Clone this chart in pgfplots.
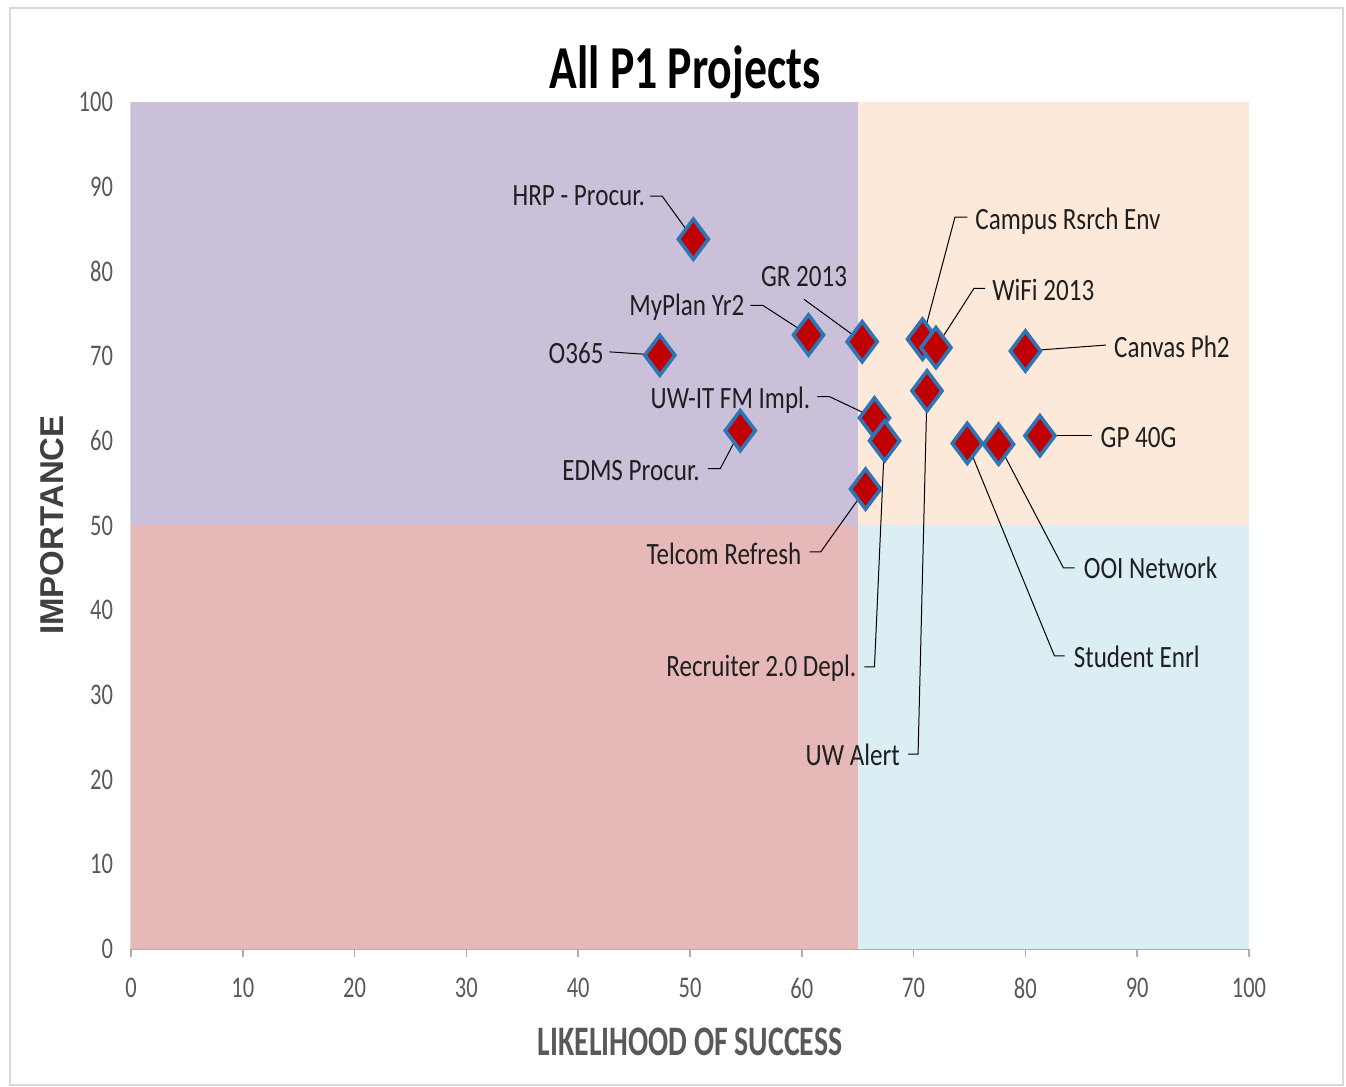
\documentclass[border=0pt]{standalone}
\usepackage{pgfplots}
\pgfplotsset{compat=1.18}
\usepackage{fontspec}
\setmainfont{Carlito}[FakeStretch=0.75]
\newfontfamily\labfont{Carlito}[FakeStretch=0.81]
\newfontfamily\xlabfont{Carlito}[FakeStretch=0.71]
\newfontfamily\ylabfont{Liberation Sans}
\definecolor{qUL}{HTML}{CBC0DA}
\definecolor{qUR}{HTML}{FDE9D9}
\definecolor{qLL}{HTML}{E6B9B8}
\definecolor{qLR}{HTML}{DBEEF4}
\definecolor{mkred}{HTML}{C00000}
\definecolor{mkblue}{HTML}{2E75B6}
\definecolor{tickgray}{HTML}{595959}
\definecolor{framegray}{HTML}{D9D9D9}
\pgfplotstableread{
x y
50.3 83.8
60.6 72.5
65.4 71.7
47.3 70.1
70.8 72.0
72.0 71.0
80.0 70.6
71.2 65.9
66.5 62.7
67.4 60.0
54.5 61.2
81.3 60.6
74.8 59.7
77.6 59.6
65.7 54.3
}\projects
\begin{document}
\begin{tikzpicture}
\path (-65.5pt,-69pt) rectangle (607.5pt,474.5pt);
\draw[framegray, line width=1pt] (-60.5pt,-68pt) rectangle (606pt,470.5pt);
\begin{axis}[
  at={(0,0)}, anchor=south west,
  scale only axis, width=559pt, height=423.5pt,
  xmin=0, xmax=100, ymin=0, ymax=100,
  xtick={0,10,...,100}, ytick={0,10,...,100},
  axis x line*=bottom, axis y line*=left,
  x axis line style={-, draw=framegray!80!black, line width=0.8pt},
  y axis line style={-, draw=framegray, line width=0.6pt},
  xtick style={draw=framegray!80!black, line width=0.8pt},
  ytick style={draw=none},
  tick align=outside, major tick length=4pt,
  /pgf/number format/assume math mode=true,
  ticklabel style={font=\fontsize{15}{17}\selectfont, text=tickgray},
  xticklabel style={yshift=-7pt},
  yticklabel style={xshift=-1.5pt},
  clip=false,
  axis on top=false,
]
\fill[qUL] (axis cs:0,50) rectangle (axis cs:65,100);
\fill[qUR] (axis cs:65,50) rectangle (axis cs:100,100);
\fill[qLL] (axis cs:0,0) rectangle (axis cs:65,50);
\fill[qLR] (axis cs:65,0) rectangle (axis cs:100,50);
\addplot[only marks, mark=diamond*, mark size=10pt,
  mark options={fill=mkred, draw=mkblue, line width=1.8pt}] table[x=x,y=y] {\projects};
\begin{scope}[black, line width=0.5pt]
\draw (axis cs:46.4,88.9) -- (axis cs:47.5,88.9) -- (axis cs:50.3,83.8);
\draw (axis cs:60.2,76.7) -- (axis cs:65.4,71.7);
\draw (axis cs:55.4,76.0) -- (axis cs:56.5,76.0) -- (axis cs:60.6,72.5);
\draw (axis cs:42.8,70.5) -- (axis cs:47.3,70.1);
\draw (axis cs:74.8,86.4) -- (axis cs:73.7,86.4) -- (axis cs:70.8,72.0);
\draw (axis cs:76.4,78.0) -- (axis cs:75.4,78.0) -- (axis cs:72.0,71.0);
\draw (axis cs:87.2,71.3) -- (axis cs:80.0,70.6);
\draw (axis cs:61.4,65.2) -- (axis cs:62.5,65.2) -- (axis cs:66.5,62.7);
\draw (axis cs:51.6,56.7) -- (axis cs:52.7,56.7) -- (axis cs:54.5,61.2);
\draw (axis cs:60.7,46.9) -- (axis cs:61.7,46.9) -- (axis cs:65.7,54.3);
\draw (axis cs:65.6,33.3) -- (axis cs:66.5,33.3) -- (axis cs:67.4,60.0);
\draw (axis cs:69.5,23.0) -- (axis cs:70.4,23.0) -- (axis cs:71.2,65.9);
\draw (axis cs:86.0,60.6) -- (axis cs:81.3,60.6);
\draw (axis cs:84.4,45.0) -- (axis cs:83.4,45.0) -- (axis cs:77.6,59.6);
\draw (axis cs:83.5,34.6) -- (axis cs:82.6,34.6) -- (axis cs:74.8,59.7);
\end{scope}
\begin{scope}[every node/.style={font=\labfont\fontsize{15.5}{18}\selectfont, text=black!88, inner sep=0pt}]
\node[anchor=east] at (axis cs:46.0,88.9) {HRP - Procur.};
\node at (axis cs:60.2,79.4) {GR 2013};
\node[anchor=east] at (axis cs:54.9,75.8) {MyPlan Yr2};
\node[anchor=east] at (axis cs:42.3,70.3) {O365};
\node[anchor=west] at (axis cs:75.5,85.9) {Campus Rsrch Env};
\node[anchor=west] at (axis cs:77.0,77.8) {WiFi 2013};
\node[anchor=west] at (axis cs:87.9,71.1) {Canvas Ph2};
\node[anchor=east] at (axis cs:60.8,64.8) {UW-IT FM Impl.};
\node[anchor=east] at (axis cs:50.9,56.5) {EDMS Procur.};
\node[anchor=east] at (axis cs:60.0,46.7) {Telcom Refresh};
\node[anchor=east] at (axis cs:64.9,33.1) {Recruiter 2.0 Depl.};
\node[anchor=east] at (axis cs:68.8,22.9) {UW Alert};
\node[anchor=west] at (axis cs:86.7,60.4) {GP 40G};
\node[anchor=west] at (axis cs:85.2,45.0) {OOI Network};
\node[anchor=west] at (axis cs:84.3,34.5) {Student Enrl};
\end{scope}
\end{axis}
\node[font=\fontsize{30.5}{36}\selectfont\bfseries, text=black] at (277pt,438.5pt) {All P1 Projects};
\node[font=\xlabfont\fontsize{21}{24}\selectfont\bfseries, text=tickgray] at (279.5pt,-46.5pt) {LIKELIHOOD OF SUCCESS};
\node[font=\ylabfont\fontsize{16.5}{19}\selectfont\bfseries, text=black!75, rotate=90] at (-39.5pt,212pt) {IMPORTANCE};
\end{tikzpicture}
\end{document}
